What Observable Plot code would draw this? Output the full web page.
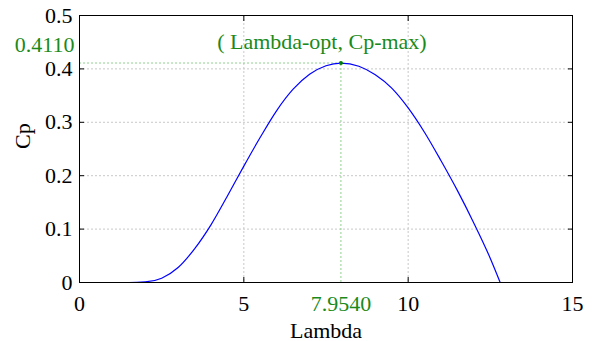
<!DOCTYPE html>
<html>
<head>
<meta charset="utf-8">
<script src="https://cdn.jsdelivr.net/npm/d3@7"></script>
<script src="https://cdn.jsdelivr.net/npm/@observablehq/plot@0.6"></script>
<style>
  html, body { margin: 0; padding: 0; background: #fff; }
  #chart { width: 593px; height: 341px; }
</style>
</head>
<body>
<div id="chart"></div>
<script>
// Cp–Lambda curve values
const lambda = [0.5, 1.0, 1.5, 2.0, 2.5, 3.0, 3.5, 4.0, 4.5, 5.0, 5.5, 6.0, 6.5, 7.0, 7.5, 7.954, 8.5, 9.0, 9.5, 10.0, 10.5, 11.0, 11.5, 12.0, 12.5, 12.8];
const cp = [0, 0, 0, 0.001, 0.008, 0.028, 0.063, 0.108, 0.162, 0.218, 0.272, 0.322, 0.362, 0.390, 0.406, 0.411, 0.405, 0.389, 0.364, 0.327, 0.281, 0.228, 0.172, 0.111, 0.045, 0];

// Optimum point
const optLambda = [7.9540];
const optCp = [0.4110];

// Ticks
const xTicks = [0, 5, 10, 15];
const yTicks = [0, 0.1, 0.2, 0.3, 0.4, 0.5];

const curve = lambda.map((l, i) => ({l, c: cp[i]}));
const opt = optLambda.map((l, i) => ({l, c: optCp[i]}));

const green = "#1a8a1a";
const lightGreen = "#8fd08f";
const grid = {stroke: "#c8c8c8", strokeOpacity: 1, strokeDasharray: "2,2", strokeWidth: 1};

const chart = Plot.plot({
  width: 593,
  height: 341,
  marginLeft: 79,
  marginRight: 21,
  marginTop: 15,
  marginBottom: 59,
  style: {fontFamily: "'Liberation Serif', 'Times New Roman', serif", fontSize: "22px", color: "#000", background: "#fff"},
  x: {domain: [0, 15]},
  y: {domain: [0, 0.5]},
  marks: [
    Plot.gridX(xTicks, grid),
    Plot.gridY(yTicks, grid),
    // green guide lines
    Plot.ruleY(opt, {y: "c", x1: 0, x2: "l", stroke: lightGreen, strokeDasharray: "2,2", strokeWidth: 1}),
    Plot.ruleX(opt, {x: "l", y1: 0, y2: "c", stroke: lightGreen, strokeDasharray: "2,2", strokeWidth: 1}),
    // inward ticks on all four sides
    Plot.axisX(xTicks, {anchor: "bottom", tickSize: 5, dy: -5, fill: "none", label: null, stroke: "#000"}),
    Plot.axisX(xTicks, {anchor: "top", tickSize: 5, dy: 5, fill: "none", label: null, stroke: "#000"}),
    Plot.axisY(yTicks, {anchor: "left", tickSize: 5, dx: 5, fill: "none", label: null, stroke: "#000"}),
    Plot.axisY(yTicks, {anchor: "right", tickSize: 5, dx: -5, fill: "none", label: null, stroke: "#000"}),
    // tick labels
    Plot.axisX(xTicks, {anchor: "bottom", tickSize: 0, tickPadding: 13, label: null, tickFormat: d => String(d)}),
    Plot.axisY(yTicks, {anchor: "left", tickSize: 0, tickPadding: 7, label: null, tickFormat: d => String(d)}),
    // axis titles
    Plot.text(["Lambda"], {frameAnchor: "bottom", dy: 55, lineAnchor: "bottom", text: d => d, fill: "#000"}),
    Plot.text(["Cp"], {frameAnchor: "left", dx: -57, rotate: -90, text: d => d, fill: "#000"}),
    // curve
    Plot.line(curve, {x: "l", y: "c", stroke: "#0000ff", strokeWidth: 1.2, curve: "monotone-x"}),
    Plot.frame({stroke: "#000", strokeWidth: 1}),
    // optimum point and annotations
    Plot.dot(opt, {x: "l", y: "c", r: 2, fill: "#008000", stroke: "none"}),
    Plot.text(opt, {x: "l", y: "c", dx: -19, dy: -14, lineAnchor: "bottom", textAnchor: "middle", text: () => "( Lambda-opt, Cp-max)", fill: green}),
    Plot.text(opt, {y: "c", frameAnchor: "left", textAnchor: "end", dx: -5, dy: -18, text: d => d.c.toFixed(4), fill: green}),
    Plot.text(opt, {x: "l", frameAnchor: "bottom", lineAnchor: "top", dy: 13, text: d => d.l.toFixed(4), fill: green})
  ]
});
document.getElementById("chart").appendChild(chart);
</script>
</body>
</html>
